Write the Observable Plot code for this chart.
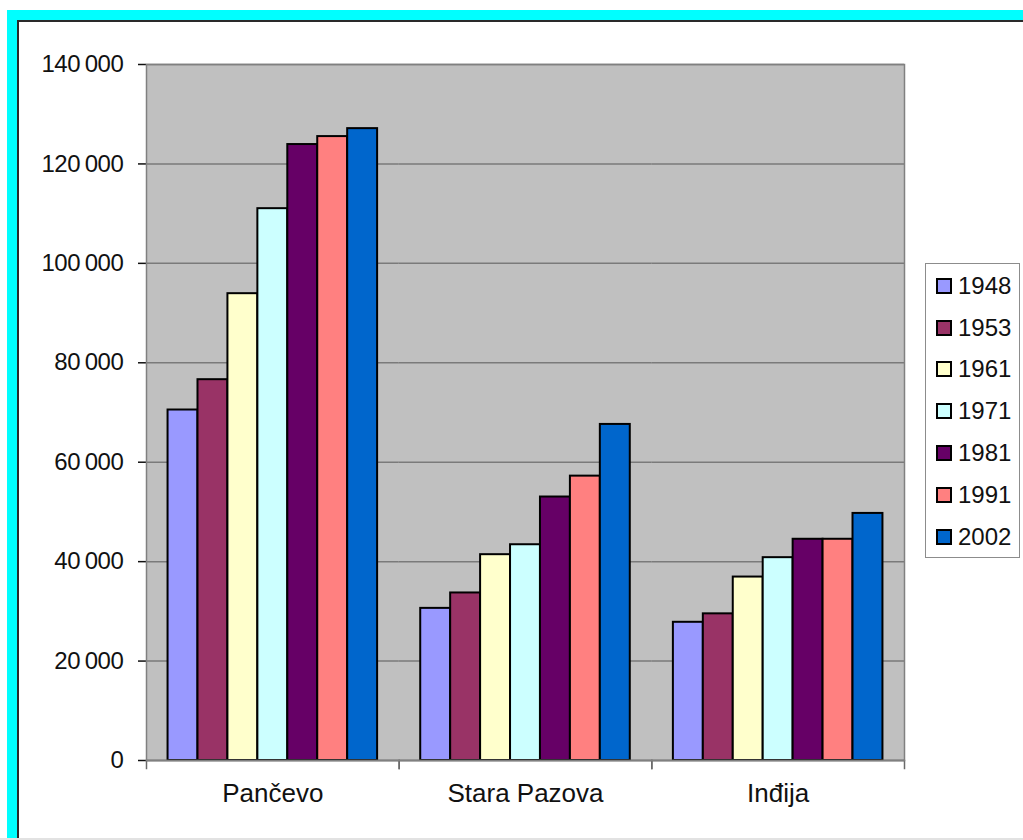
<!DOCTYPE html>
<html>
<head>
<meta charset="utf-8">
<script src="https://cdn.jsdelivr.net/npm/d3@7"></script>
<script src="https://cdn.jsdelivr.net/npm/@observablehq/plot@0.6"></script>
<style>
  html, body { margin: 0; padding: 0; background: #fff; }
  #page { position: relative; width: 1023px; height: 840px; overflow: hidden; background: #fff; font-family: "Liberation Sans", Arial, sans-serif; }
  #cyan { position: absolute; left: 7px; top: 10px; right: -20px; bottom: -20px; border-left: 10px solid #00FFFF; border-top: 10px solid #00FFFF; }
  #inner { position: absolute; left: 0; top: 0; right: 0; bottom: 0; border-left: 2px solid #2a2a2a; border-top: 2px solid #2a2a2a; }
  #bottomline { position: absolute; left: 0; top: 838px; width: 1023px; height: 2px; background: #e2e2e2; }
  #chart { position: absolute; left: 0; top: 0; }
  #chart svg { overflow: visible; }
  #chart [aria-label="y-axis tick"] { stroke: #6a6a6a; stroke-width: 1.5px; }
  #chart [aria-label="y-axis tick label"] text { letter-spacing: -0.4px; fill: #111; }
  #chart [aria-label="fx-axis tick label"] text { font-size: 26px; fill: #111; }
  #legend { position: absolute; left: 925px; top: 263px; width: 95px; height: 295px; box-sizing: border-box; border: 1px solid #8c8c8c; background: #fff; padding-top: 1px; }
  .row { height: 41.8px; display: flex; align-items: center; }
  .sw { width: 12px; height: 12px; border: 2px solid #000; margin-left: 10px; }
  .lt { margin-left: 6px; font-size: 24px; color: #111; }
</style>
</head>
<body>
<div id="page">
  <div id="cyan"><div id="inner"></div></div>
  <div id="bottomline"></div>
  <div id="chart"></div>
  <div id="legend"></div>
</div>
<script>
const cities = ["Pančevo", "Stara Pazova", "Inđija"];
const years = ["1948", "1953", "1961", "1971", "1981", "1991", "2002"];
const colors = ["#9999FF", "#993366", "#FFFFCC", "#CCFFFF", "#660066", "#FF8080", "#0066CC"];
const pancevo = [70500, 76600, 93900, 111000, 123900, 125500, 127100];
const staraPazova = [30600, 33700, 41400, 43400, 53000, 57200, 67600];
const indjija = [27800, 29500, 36900, 40800, 44500, 44500, 49700];
const yTicks = [0, 20000, 40000, 60000, 80000, 100000, 120000, 140000];

const series = [pancevo, staraPazova, indjija];
const data = [];
cities.forEach((city, i) => years.forEach((year, j) => data.push({city, year, value: series[i][j]})));

const fmt = d3.formatLocale({thousands: "\u2009", grouping: [3], decimal: ".", currency: ["", ""]}).format(",");

const chart = Plot.plot({
  width: 920,
  height: 840,
  marginLeft: 146,
  marginTop: 64,
  marginRight: 16,
  marginBottom: 80,
  style: {fontFamily: "'Liberation Sans', Arial, sans-serif", fontSize: "24px", color: "#111", background: "transparent"},
  fx: {domain: cities, paddingInner: 0, paddingOuter: 0, round: false, label: null, tickSize: 0, tickPadding: 23},
  x: {domain: years, paddingInner: 0, paddingOuter: 0.72, round: false, axis: null},
  y: {domain: [0, 140000], ticks: yTicks, tickSize: 8, tickPadding: 15, tickFormat: fmt, label: null},
  color: {domain: years, range: colors},
  marks: [
    Plot.frame({facet: "super", fill: "#C0C0C0"}),
    Plot.gridY(yTicks, {stroke: "#7a7a7a", strokeOpacity: 1, strokeWidth: 1.5}),
    Plot.barY(data, {fx: "city", x: "year", y: "value", fill: "year", stroke: "#000", strokeWidth: 2}),
    Plot.ruleY([0], {stroke: "#6a6a6a", strokeWidth: 1.5}),
    Plot.frame({anchor: "left", insetTop: 696, insetBottom: -8, stroke: "#6a6a6a", strokeWidth: 1.5}),
    Plot.frame({anchor: "right", insetTop: 696, insetBottom: -8, stroke: "#6a6a6a", strokeWidth: 1.5}),
    Plot.frame({facet: "super", stroke: "#808080", strokeWidth: 1.5})
  ]
});
document.getElementById("chart").appendChild(chart);

const legend = document.getElementById("legend");
years.forEach((y, i) => {
  const row = document.createElement("div");
  row.className = "row";
  const sw = document.createElement("div");
  sw.className = "sw";
  sw.style.background = colors[i];
  const t = document.createElement("span");
  t.className = "lt";
  t.textContent = y;
  row.appendChild(sw);
  row.appendChild(t);
  legend.appendChild(row);
});
</script>
</body>
</html>
